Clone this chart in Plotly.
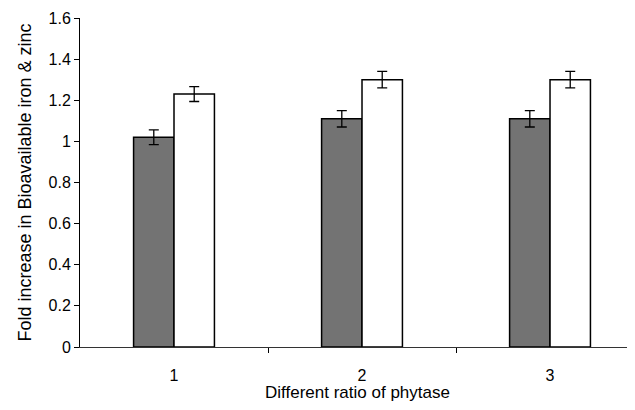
import plotly.graph_objects as go

categories = ["1", "2", "3"]
iron_values = [1.02, 1.11, 1.11]
iron_err = [0.036, 0.04, 0.04]
zinc_values = [1.23, 1.30, 1.30]
zinc_err = [0.036, 0.04, 0.04]
y_ticks = [0, 0.2, 0.4, 0.6, 0.8, 1.0, 1.2, 1.4, 1.6]
y_tick_labels = ["0", "0.2", "0.4", "0.6", "0.8", "1", "1.2", "1.4", "1.6"]

xpos = list(range(len(categories)))
boundaries = [p + 0.5 for p in xpos]

fig = go.Figure()
fig.add_trace(go.Bar(
    x=xpos, y=iron_values, name="Iron",
    marker=dict(color="#737373", line=dict(color="black", width=1.5)),
    error_y=dict(type="data", array=iron_err, color="black", thickness=1.3, width=5),
))
fig.add_trace(go.Bar(
    x=xpos, y=zinc_values, name="Zinc",
    marker=dict(color="white", line=dict(color="black", width=1.5)),
    error_y=dict(type="data", array=zinc_err, color="black", thickness=1.3, width=5),
))

font_family = "Liberation Sans, Arial, sans-serif"
fig.update_layout(
    width=627, height=394,
    margin=dict(l=72, r=0, t=10, b=55),
    paper_bgcolor="white", plot_bgcolor="white",
    barmode="group", bargap=0.57, bargroupgap=0,
    showlegend=False,
    font=dict(family=font_family, size=16, color="black"),
    xaxis=dict(
        range=[-0.5, 2.452],
        tickvals=xpos, ticktext=categories, ticks="",
        ticklabelstandoff=14,
        showline=True, linecolor="#333333", linewidth=1,
        showgrid=False, zeroline=False,
        tickfont=dict(size=16),
        minor=dict(tickvals=boundaries, ticks="outside", ticklen=5,
                   tickcolor="black", tickwidth=1, showgrid=False),
        title=dict(text="Different ratio of phytase", font=dict(size=17), standoff=6),
    ),
    yaxis=dict(
        range=[0, 1.6],
        tickvals=y_ticks, ticktext=y_tick_labels,
        ticks="outside", ticklen=5, tickcolor="black", tickwidth=1,
        showline=True, linecolor="black", linewidth=1,
        showgrid=False, zeroline=False,
        tickfont=dict(size=16),
        title=dict(text="Fold increase in Bioavailable iron & zinc", font=dict(size=18), standoff=12),
    ),
)

fig.write_html("out.html")
